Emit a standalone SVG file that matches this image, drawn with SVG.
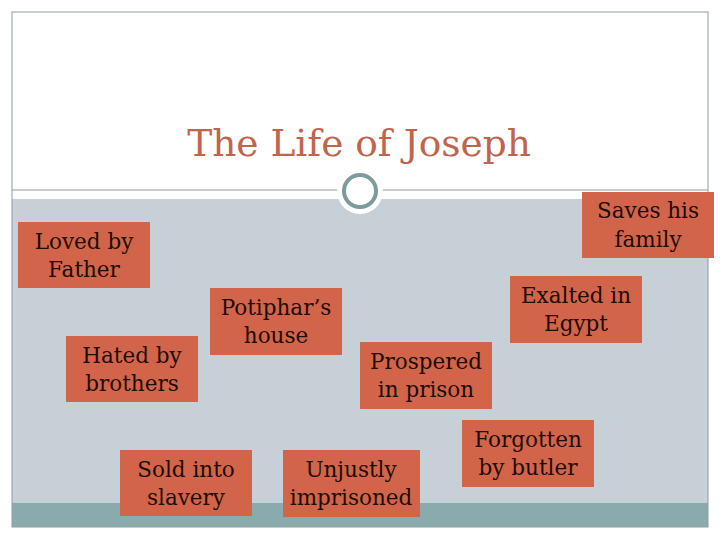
<svg xmlns="http://www.w3.org/2000/svg" width="720" height="540" viewBox="0 0 720 540">
<style>
.box{fill:#D2644A;}
.lbl{font-family:"DejaVu Serif",serif;font-size:21.5px;fill:#1E0C06;text-anchor:middle;}
.title{font-family:"DejaVu Serif",serif;font-size:37.5px;fill:#C1644E;text-anchor:middle;}
</style>
<rect x="0" y="0" width="720" height="540" fill="#FFFFFF"/>
<rect x="12" y="199" width="696" height="304" fill="#C6D0D6"/>
<rect x="12" y="503" width="696" height="24" fill="#8AABAD"/>
<rect x="12" y="12" width="696" height="515" fill="none" stroke="#8A9EA3" stroke-width="1"/>
<line x1="12" y1="190" x2="708" y2="190" stroke="#8A9EA3" stroke-width="1"/>
<circle cx="360" cy="191" r="23" fill="#FFFFFF"/>
<circle cx="360" cy="191" r="16" fill="none" stroke="#7E9A9B" stroke-width="4"/>
<text class="title" x="359" y="156">The Life of Joseph</text>
<g id="connectors"></g>
<g id="loved"><rect class="box" x="18" y="222" width="132" height="66"/><text class="lbl" x="84" y="249">Loved by</text><text class="lbl" x="84" y="277">Father</text></g>
<g id="hated"><rect class="box" x="66" y="336" width="132" height="66"/><text class="lbl" x="132" y="363">Hated by</text><text class="lbl" x="132" y="391">brothers</text></g>
<g id="sold"><rect class="box" x="120" y="450" width="132" height="66"/><text class="lbl" x="186" y="477">Sold into</text><text class="lbl" x="186" y="505">slavery</text></g>
<g id="potiphar"><rect class="box" x="210" y="288" width="132" height="67"/><text class="lbl" x="276" y="315">Potiphar’s</text><text class="lbl" x="276" y="343">house</text></g>
<g id="unjustly"><rect class="box" x="283" y="450" width="137" height="67"/><text class="lbl" x="351" y="477">Unjustly</text><text class="lbl" x="351" y="505">imprisoned</text></g>
<g id="prospered"><rect class="box" x="360" y="342" width="132" height="67"/><text class="lbl" x="426" y="369">Prospered</text><text class="lbl" x="426" y="397">in prison</text></g>
<g id="forgotten"><rect class="box" x="462" y="420" width="132" height="67"/><text class="lbl" x="528" y="447">Forgotten</text><text class="lbl" x="528" y="475">by butler</text></g>
<g id="exalted"><rect class="box" x="510" y="276" width="132" height="67"/><text class="lbl" x="576" y="303">Exalted in</text><text class="lbl" x="576" y="331">Egypt</text></g>
<g id="saves"><rect class="box" x="582" y="192" width="132" height="66"/><text class="lbl" x="648" y="218">Saves his</text><text class="lbl" x="648" y="247">family</text></g>
</svg>
